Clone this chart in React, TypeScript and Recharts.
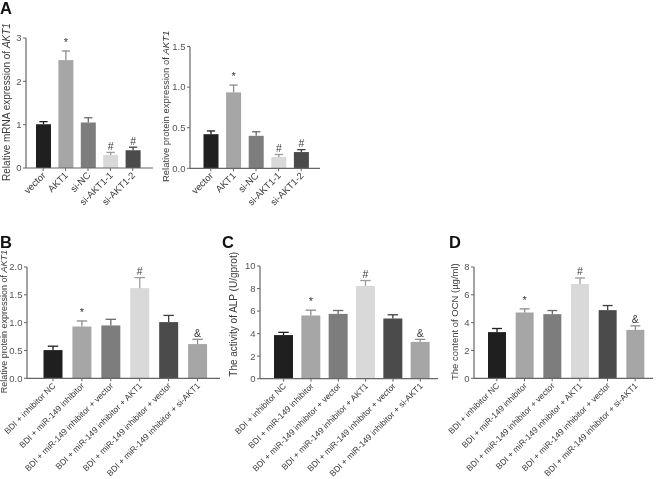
import React from 'react';
import { BarChart, Bar, XAxis, YAxis, Label } from 'recharts';

const geneGroups = ['vector', 'AKT1', 'si-NC', 'si-AKT1-1', 'si-AKT1-2'];
const mrnaMean = [1.01, 2.49, 1.05, 0.3, 0.41];
const mrnaSem = [0.06, 0.21, 0.11, 0.06, 0.07];
const mrnaMarks = ['', '*', '', '#', '#'];
const proteinMean = [0.42, 0.935, 0.4, 0.14, 0.2];
const proteinSem = [0.04, 0.09, 0.05, 0.03, 0.03];
const proteinMarks = ['', '*', '', '#', '#'];

const rescueGroups = [
  'BDI + inhibitor NC',
  'BDI + miR-149 inhibitor',
  'BDI + miR-149 inhibitor + vector',
  'BDI + miR-149 inhibitor + AKT1',
  'BDI + miR-149 inhibitor + vector',
  'BDI + miR-149 inhibitor + si-AKT1',
];
const rescueMarks = ['', '*', '', '#', '', '&'];
const akt1Mean = [0.507, 0.93, 0.95, 1.62, 1.01, 0.615];
const akt1Sem = [0.07, 0.1, 0.11, 0.19, 0.12, 0.085];
const alpMean = [3.87, 5.61, 5.75, 8.23, 5.34, 3.27];
const alpSem = [0.24, 0.47, 0.3, 0.48, 0.33, 0.22];
const ocnMean = [3.32, 4.73, 4.61, 6.78, 4.9, 3.48];
const ocnSem = [0.26, 0.26, 0.26, 0.43, 0.33, 0.29];

const fills = ['#1f1f1f', '#a6a6a6', '#7d7d7d', '#d9d9d9', '#4b4b4b', '#a6a6a6'];
const errColors = ['#1f1f1f', '#8c8c8c', '#6a6a6a', '#9c9c9c', '#3f3f3f', '#8c8c8c'];
const axisColor = '#666';
const textColor = '#3a3a3a';

const rows = (mean: number[], sem: number[], marks: string[]) =>
  mean.map((m, i) => ({ id: i, mean: m, sem: sem[i], mark: marks[i] }));

function MeanBar(props: any) {
  const { x, y, width, height, payload } = props;
  const i = payload.id;
  const cx = x + width / 2;
  const unit = payload.mean > 0 ? height / payload.mean : 0;
  const top = y - payload.sem * unit;
  const cap = width * 0.55;
  const ec = errColors[i];
  return (
    <g>
      <rect x={x} y={y} width={width} height={height} fill={fills[i]} />
      <line x1={cx} x2={cx} y1={y} y2={top} stroke={ec} strokeWidth={1.3} />
      <line x1={cx - cap / 2} x2={cx + cap / 2} y1={top} y2={top} stroke={ec} strokeWidth={1.3} />
      {payload.mark ? (
        <text
          x={cx}
          y={payload.mark === '*' ? top - 5 : top - 2.5}
          textAnchor="middle"
          fontSize={payload.mark === '*' ? 11 : 10.5}
          fill={textColor}
        >
          {payload.mark}
        </text>
      ) : null}
    </g>
  );
}

type PanelProps = {
  data: { id: number; mean: number; sem: number; mark: string }[];
  names: string[];
  left: number;
  top: number;
  plotLeft: number;
  plotRight: number;
  plotTop: number;
  plotBottom: number;
  xHeight: number;
  ticks: number[];
  digits: number;
  padL: number;
  padR: number;
  barSize: number;
  tickFont: number;
  yLabel: React.ReactNode;
  labelX: number;
  labelDy: number;
  labelFont: number;
};

function Panel(p: PanelProps) {
  const yw = p.plotLeft - p.left;
  const width = p.plotRight - p.left + 2;
  const height = p.plotBottom - p.top + p.xHeight;
  const domainMax = p.ticks[p.ticks.length - 1];
  const CatTick = ({ x, y, payload }: any) => {
    const tx = x + 3;
    const ty = y + 4;
    return (
      <text
        x={tx}
        y={ty}
        transform={`rotate(-45 ${tx} ${ty})`}
        textAnchor="end"
        fontSize={p.tickFont}
        fill={textColor}
      >
        {p.names[payload.value]}
      </text>
    );
  };
  return (
    <div style={{ position: 'absolute', left: p.left, top: p.top }}>
      <BarChart
        width={width}
        height={height}
        data={p.data}
        margin={{ top: p.plotTop - p.top, right: 2, bottom: 0, left: 0 }}
        barSize={p.barSize}
      >
        <XAxis
          dataKey="id"
          type="category"
          interval={0}
          height={p.xHeight}
          padding={{ left: p.padL, right: p.padR }}
          tick={<CatTick />}
          tickSize={3}
          tickMargin={1}
          axisLine={{ stroke: axisColor, strokeWidth: 1.2 }}
          tickLine={{ stroke: axisColor }}
        />
        <YAxis
          width={yw}
          domain={[0, domainMax]}
          ticks={p.ticks}
          interval={0}
          tickFormatter={(v: number) => v.toFixed(p.digits)}
          tick={{ fontSize: 9.5, fill: '#555' }}
          tickSize={3}
          tickMargin={1.5}
          axisLine={{ stroke: axisColor, strokeWidth: 1.2 }}
          tickLine={{ stroke: axisColor }}
        >
          <Label
            content={({ viewBox }: any) => {
              const lx = p.labelX;
              const ly = viewBox.y + viewBox.height / 2 + p.labelDy;
              return (
                <text
                  x={lx}
                  y={ly}
                  transform={`rotate(-90 ${lx} ${ly})`}
                  textAnchor="middle"
                  fontSize={p.labelFont}
                  fill={textColor}
                >
                  {p.yLabel}
                </text>
              );
            }}
          />
        </YAxis>
        <Bar dataKey="mean" shape={<MeanBar />} isAnimationActive={false} />
      </BarChart>
    </div>
  );
}

const akt1 = <tspan fontStyle="italic">AKT1</tspan>;

export default function App() {
  return (
    <div
      style={{
        position: 'absolute',
        left: 0,
        top: 0,
        width: 659,
        height: 479,
        background: '#fff',
        overflow: 'hidden',
        filter: 'grayscale(1)',
        fontFamily: '"Liberation Sans", Arial, sans-serif',
      }}
    >
      <style>{`.recharts-surface { overflow: visible; }`}</style>
      <Panel
        data={rows(mrnaMean, mrnaSem, mrnaMarks)}
        names={geneGroups}
        left={0}
        top={0}
        plotLeft={26}
        plotRight={153}
        plotTop={38}
        plotBottom={168}
        xHeight={50}
        ticks={[0, 1, 2, 3]}
        digits={0}
        padL={6}
        padR={9}
        barSize={15}
        tickFont={9.5}
        yLabel={<>Relative mRNA expression of {akt1}</>}
        labelX={10}
        labelDy={-1}
        labelFont={10}
      />
      <Panel
        data={rows(proteinMean, proteinSem, proteinMarks)}
        names={geneGroups}
        left={165}
        top={0}
        plotLeft={190}
        plotRight={320}
        plotTop={46.5}
        plotBottom={168.3}
        xHeight={50}
        ticks={[0, 0.5, 1, 1.5]}
        digits={1}
        padL={9.5}
        padR={7.5}
        barSize={15}
        tickFont={9.5}
        yLabel={<>Relative protein expression of {akt1}</>}
        labelX={4}
        labelDy={-1}
        labelFont={9.5}
      />
      <Panel
        data={rows(akt1Mean, akt1Sem, rescueMarks)}
        names={rescueGroups}
        left={0}
        top={200}
        plotLeft={27}
        plotRight={220}
        plotTop={267}
        plotBottom={378.3}
        xHeight={100}
        ticks={[0, 0.5, 1, 1.5, 2]}
        digits={1}
        padL={11.5}
        padR={8}
        barSize={19}
        tickFont={8.5}
        yLabel={<>Relative protein expression of {akt1}</>}
        labelX={7.5}
        labelDy={-1}
        labelFont={9}
      />
      <Panel
        data={rows(alpMean, alpSem, rescueMarks)}
        names={rescueGroups}
        left={220}
        top={200}
        plotLeft={260}
        plotRight={438}
        plotTop={266}
        plotBottom={378.7}
        xHeight={100}
        ticks={[0, 2, 4, 6, 8, 10]}
        digits={0}
        padL={10}
        padR={4}
        barSize={19}
        tickFont={8.5}
        yLabel="The activity of ALP (U/gprot)"
        labelX={16.5}
        labelDy={-8}
        labelFont={10}
      />
      <Panel
        data={rows(ocnMean, ocnSem, rescueMarks)}
        names={rescueGroups}
        left={440}
        top={200}
        plotLeft={474}
        plotRight={653}
        plotTop={267}
        plotBottom={378.3}
        xHeight={100}
        ticks={[0, 2, 4, 6, 8]}
        digits={0}
        padL={9}
        padR={4}
        barSize={18}
        tickFont={8.5}
        yLabel="The content of OCN (µg/ml)"
        labelX={18}
        labelDy={-1}
        labelFont={9.5}
      />
      <svg
        width={659}
        height={479}
        style={{ position: 'absolute', left: 0, top: 0, pointerEvents: 'none' }}
      >
        <g fontSize={16.5} fontWeight="bold" fill="#111">
          <text x={0} y={14}>A</text>
          <text x={0} y={248}>B</text>
          <text x={222} y={248}>C</text>
          <text x={449} y={248}>D</text>
        </g>
      </svg>
    </div>
  );
}
